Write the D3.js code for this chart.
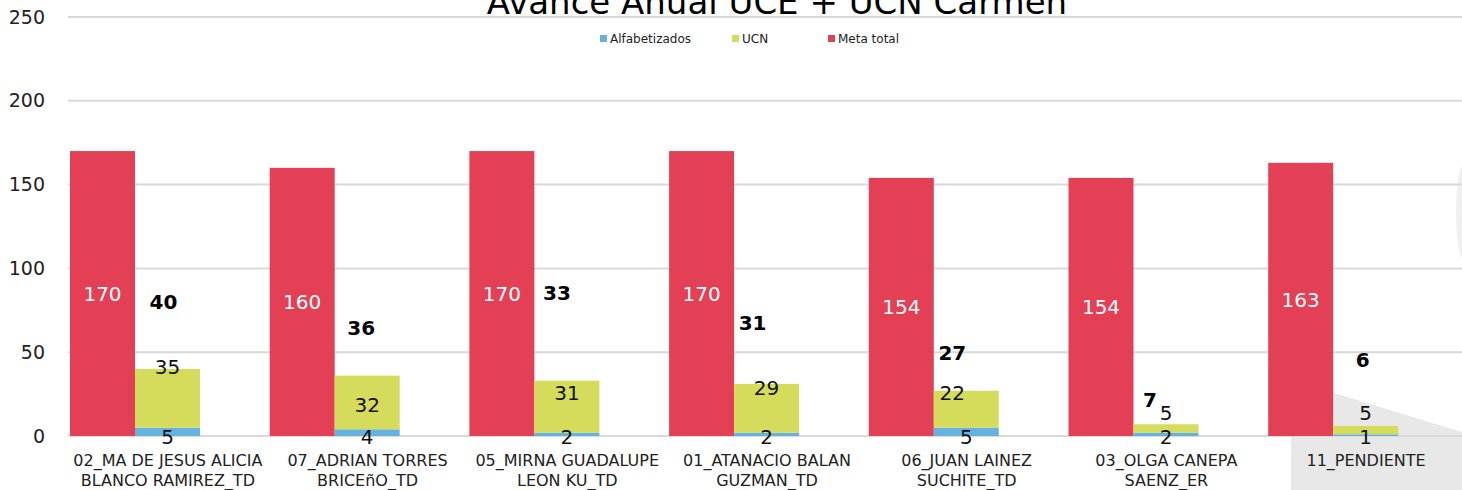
<!DOCTYPE html>
<html>
<head>
<meta charset="utf-8">
<script src="https://cdn.jsdelivr.net/npm/d3@7"></script>
<style>
  body { margin: 0; background: #fff; overflow: hidden; }
  text { font-family: "DejaVu Sans", sans-serif; }
</style>
</head>
<body>
<script>
// data
const categories = [
  "02_MA DE JESUS ALICIA|BLANCO RAMIREZ_TD",
  "07_ADRIAN TORRES|BRICEñO_TD",
  "05_MIRNA GUADALUPE|LEON KU_TD",
  "01_ATANACIO BALAN|GUZMAN_TD",
  "06_JUAN LAINEZ|SUCHITE_TD",
  "03_OLGA CANEPA|SAENZ_ER",
  "11_PENDIENTE"
];
const metaTotal = [170, 160, 170, 170, 154, 154, 163];
const alfabetizados = [5, 4, 2, 2, 5, 2, 1];
const ucn = [35, 32, 31, 29, 22, 5, 5];
const totals = [40, 36, 33, 31, 27, 7, 6];
const yTicks = [0, 50, 100, 150, 200, 250];
const legendLabels = ["Alfabetizados", "UCN", "Meta total"];

// where the hand-placed labels sit (value units) and their x nudges
const ucnLabelAt = [41, 18.5, 25.7, 28.6, 25.7, 13.7, 13.7];
const ucnLabelDx = [0, 0, 0, 0, -14, 0, 0];
const totalLabelAt = [80, 64.4, 85.3, 67.4, 49.5, 21.5, 45.3];
const totalLabelDx = [-4, -6, -10, -14, -14, -16, -3];

var red_col = "#E34055";
var green_col = "#D5DB5A";
var blue_col = "#66B2DF";
var grid_col = "#D9D9D9";

var width = 1462, height = 490;

var svg = d3.select("body").append("svg")
  .attr("width", width)
  .attr("height", height);

var x = d3.scaleBand()
  .domain(categories)
  .range([68, 68 + 7 * 199.7]);

var inner = d3.scaleBand()
  .domain(["meta", "stack", "empty"])
  .range([2, 197]);

var y = d3.scaleLinear()
  .domain([0, 250])
  .range([436, 17]);

// background decorations (grey shapes behind last category)
svg.append("path")
  .attr("d", "M1334,393 L1462,432 L1462,436 L1334,436 Z")
  .style("fill", "#E8E8E8");
svg.append("rect")
  .attr("x", 1291).attr("y", 437)
  .attr("width", 171).attr("height", 53)
  .style("fill", "#E8E8E8");
svg.append("ellipse")
  .attr("cx", 1463).attr("cy", 212)
  .attr("rx", 7).attr("ry", 46)
  .style("fill", "#F0F0F0");

// title
svg.append("text")
  .attr("x", 777)
  .attr("y", 14)
  .attr("text-anchor", "middle")
  .style("font-size", "34px")
  .style("fill", "#000")
  .text("Avance Anual UCE + UCN Carmen");

// grid
svg.selectAll("line.grid")
  .data(yTicks)
  .enter().append("line")
  .attr("class", "grid")
  .attr("x1", 68).attr("x2", width)
  .attr("y1", d => y(d)).attr("y2", d => y(d))
  .style("stroke", grid_col)
  .style("stroke-width", 2);

// y labels
var yAxis = d3.axisLeft(y).tickValues(yTicks).tickSize(0).tickPadding(0);
var gy = svg.append("g")
  .attr("transform", "translate(45,0)")
  .call(yAxis);
gy.select(".domain").remove();
gy.selectAll("text")
  .style("font-family", "DejaVu Sans, sans-serif")
  .style("font-size", "19px")
  .style("fill", "#222");

// meta total bars
svg.selectAll("rect.meta")
  .data(metaTotal)
  .enter().append("rect")
  .attr("class", "meta")
  .attr("x", (d, i) => x(categories[i]) + inner("meta"))
  .attr("width", inner.bandwidth())
  .attr("y", d => y(d))
  .attr("height", d => y(0) - y(d))
  .style("fill", red_col);

// stacked bars
var rows = categories.map((c, i) => ({ cat: c, Alfabetizados: alfabetizados[i], UCN: ucn[i] }));
var stacked = d3.stack().keys(["Alfabetizados", "UCN"])(rows);
var colors = { Alfabetizados: blue_col, UCN: green_col };

svg.selectAll("g.series")
  .data(stacked)
  .enter().append("g")
  .attr("class", "series")
  .style("fill", d => colors[d.key])
  .selectAll("rect")
  .data(d => d)
  .enter().append("rect")
  .attr("x", d => x(d.data.cat) + inner("stack"))
  .attr("width", inner.bandwidth())
  .attr("y", d => y(d[1]))
  .attr("height", d => y(d[0]) - y(d[1]));

// labels on meta bars
svg.selectAll("text.metaLabel")
  .data(metaTotal)
  .enter().append("text")
  .attr("class", "metaLabel")
  .attr("x", (d, i) => x(categories[i]) + inner("meta") + inner.bandwidth() / 2)
  .attr("y", d => (y(0) + y(d)) / 2)
  .attr("dy", "0.36em")
  .attr("text-anchor", "middle")
  .style("font-size", "20px")
  .style("fill", "#fff")
  .text(d => d);

// labels alfabetizados
svg.selectAll("text.alfaLabel")
  .data(alfabetizados)
  .enter().append("text")
  .attr("class", "alfaLabel")
  .attr("x", (d, i) => x(categories[i]) + inner("stack") + inner.bandwidth() / 2)
  .attr("y", y(0) + 1)
  .attr("dy", "0.36em")
  .attr("text-anchor", "middle")
  .style("font-size", "20px")
  .style("fill", "#111")
  .text(d => d);

// labels UCN
svg.selectAll("text.ucnLabel")
  .data(ucn)
  .enter().append("text")
  .attr("class", "ucnLabel")
  .attr("x", (d, i) => x(categories[i]) + inner("stack") + inner.bandwidth() / 2 + ucnLabelDx[i])
  .attr("y", (d, i) => y(ucnLabelAt[i]))
  .attr("dy", "0.36em")
  .attr("text-anchor", "middle")
  .style("font-size", "20px")
  .style("fill", "#111")
  .text(d => d);

// total labels
svg.selectAll("text.totalLabel")
  .data(totals)
  .enter().append("text")
  .attr("class", "totalLabel")
  .attr("x", (d, i) => x(categories[i]) + inner("stack") + inner.bandwidth() / 2 + totalLabelDx[i])
  .attr("y", (d, i) => y(totalLabelAt[i]))
  .attr("dy", "0.36em")
  .attr("text-anchor", "middle")
  .style("font-size", "20px")
  .style("font-weight", "bold")
  .style("fill", "#000")
  .text(d => d);

// category labels
var cat = svg.selectAll("text.cat")
  .data(categories)
  .enter().append("text")
  .attr("class", "cat")
  .attr("x", d => x(d) + x.bandwidth() / 2)
  .attr("y", 466)
  .attr("text-anchor", "middle")
  .style("font-size", "16px")
  .style("fill", "#222");
cat.selectAll("tspan")
  .data(d => d.split("|"))
  .enter().append("tspan")
  .attr("x", function () { return d3.select(this.parentNode).attr("x"); })
  .attr("dy", (d, i) => i == 0 ? 0 : 20)
  .text(d => d);

// legend
var legX = [600, 732, 828];
var legCol = [blue_col, green_col, red_col];
var leg = svg.selectAll("g.leg")
  .data(legendLabels)
  .enter().append("g")
  .attr("class", "leg")
  .attr("transform", (d, i) => "translate(" + legX[i] + ",35)");
leg.append("rect")
  .attr("width", 7).attr("height", 7)
  .style("fill", (d, i) => legCol[i]);
leg.append("text")
  .attr("x", 10).attr("y", 4)
  .attr("dy", "0.36em")
  .style("font-size", "12px")
  .style("fill", "#222")
  .text(d => d);
</script>
</body>
</html>
